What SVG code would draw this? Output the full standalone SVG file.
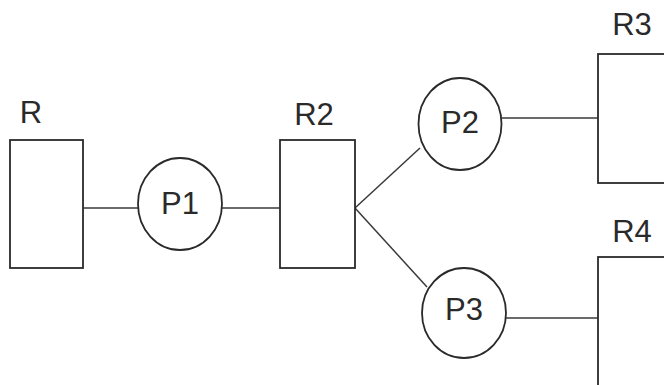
<svg xmlns="http://www.w3.org/2000/svg" width="664" height="385" viewBox="0 0 664 385">
  <style>
    .box { fill: #ffffff; stroke: #2a2a2a; stroke-width: 1.8; }
    .proc { fill: #ffffff; stroke: #2a2a2a; stroke-width: 1.8; }
    .wire { stroke: #3a3a3a; stroke-width: 1.5; fill: none; }
    .lbl { font-family: "Liberation Sans", Arial, sans-serif; font-size: 31px; fill: #2a2a2a; text-anchor: middle; }
  </style>
  <rect width="664" height="385" fill="#ffffff"/>
  <g id="connectors">
    <line class="wire" x1="83" y1="208" x2="138" y2="208"/>
    <line class="wire" x1="222" y1="208" x2="280" y2="208"/>
    <line class="wire" x1="355" y1="208" x2="420" y2="148"/>
    <line class="wire" x1="355" y1="208" x2="427" y2="287"/>
    <line class="wire" x1="502" y1="118" x2="598" y2="118"/>
    <line class="wire" x1="506" y1="318" x2="598" y2="318"/>
  </g>
  <g id="R">
    <rect class="box" x="10" y="140" width="73" height="128"/>
    <text class="lbl" x="31" y="123">R</text>
  </g>
  <g id="P1">
    <ellipse class="proc" cx="180" cy="204" rx="42" ry="46"/>
    <text class="lbl" x="180" y="214">P1</text>
  </g>
  <g id="R2">
    <rect class="box" x="280" y="140" width="75" height="128"/>
    <text class="lbl" x="314" y="125">R2</text>
  </g>
  <g id="P2">
    <ellipse class="proc" cx="460" cy="124" rx="41.5" ry="46"/>
    <text class="lbl" x="460" y="133">P2</text>
  </g>
  <g id="P3">
    <ellipse class="proc" cx="464" cy="313" rx="42" ry="45"/>
    <text class="lbl" x="464" y="320">P3</text>
  </g>
  <g id="R3">
    <rect class="box" x="598" y="54" width="80" height="129"/>
    <text class="lbl" x="632" y="35">R3</text>
  </g>
  <g id="R4">
    <rect class="box" x="598" y="257" width="80" height="140"/>
    <text class="lbl" x="632" y="242">R4</text>
  </g>
</svg>
